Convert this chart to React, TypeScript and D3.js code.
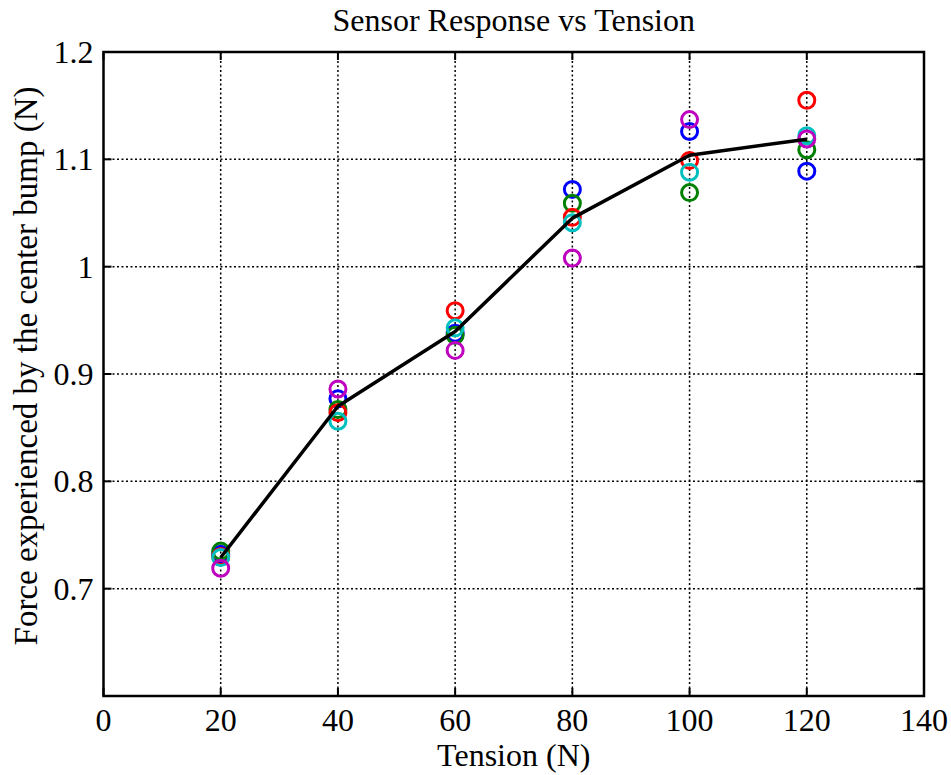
import React from "react";
import * as d3 from "d3";

// Tension settings (N)
const tension = [20, 40, 60, 80, 100, 120];

// Measured force for each of the five trials (N)
const trialBlue = [0.732, 0.877, 0.938, 1.072, 1.126, 1.089];
const trialGreen = [0.735, 0.867, 0.936, 1.059, 1.069, 1.109];
const trialRed = [0.730, 0.864, 0.959, 1.046, 1.099, 1.155];
const trialCyan = [0.729, 0.856, 0.943, 1.041, 1.088, 1.122];
const trialMagenta = [0.719, 0.886, 0.922, 1.008, 1.137, 1.119];

const trialColors = ["#0000ff", "#008000", "#ff0000", "#00bfbf", "#bf00bf"];

const xTicks = [0, 20, 40, 60, 80, 100, 120, 140];
const yTicks = [0.6, 0.7, 0.8, 0.9, 1.0, 1.1, 1.2];
const yTickLabels = ["", "0.7", "0.8", "0.9", "1", "1.1", "1.2"];

const W = 951;
const H = 775;
const left = 103.5;
const right = 924;
const top = 52;
const bottom = 696;
const font = "'Liberation Serif', 'Times New Roman', serif";

export default function App() {
  const x = d3.scaleLinear().domain([0, 140]).range([left, right]);
  const y = d3.scaleLinear().domain([0.6, 1.2]).range([bottom, top]);

  const trials = [trialBlue, trialGreen, trialRed, trialCyan, trialMagenta];
  const mean = tension.map((_, i) => d3.mean(trials, (t) => t[i]) as number);

  const line = d3
    .line<number>()
    .x((_, i) => x(tension[i]))
    .y((d) => y(d));

  const tickLen = 8;

  return (
    <svg
      width={W}
      height={H}
      style={{ position: "absolute", left: 0, top: 0, background: "#fff" }}
      fontFamily={font}
    >
      <rect x={0} y={0} width={W} height={H} fill="#fff" />

      {/* dotted grid */}
      {xTicks.slice(1, -1).map((t) => (
        <line
          key={"gx" + t}
          x1={x(t)}
          x2={x(t)}
          y1={top}
          y2={bottom}
          stroke="#000"
          strokeWidth={1.5}
          strokeDasharray="2,2.5"
        />
      ))}
      {yTicks.slice(1, -1).map((t) => (
        <line
          key={"gy" + t}
          x1={left}
          x2={right}
          y1={y(t)}
          y2={y(t)}
          stroke="#000"
          strokeWidth={1.5}
          strokeDasharray="2,2.5"
        />
      ))}

      {/* inward ticks on all sides */}
      {xTicks.map((t) => (
        <g key={"tx" + t}>
          <line x1={x(t)} x2={x(t)} y1={bottom} y2={bottom - tickLen} stroke="#000" strokeWidth={2} />
          <line x1={x(t)} x2={x(t)} y1={top} y2={top + tickLen} stroke="#000" strokeWidth={2} />
        </g>
      ))}
      {yTicks.map((t) => (
        <g key={"ty" + t}>
          <line x1={left} x2={left + tickLen} y1={y(t)} y2={y(t)} stroke="#000" strokeWidth={2} />
          <line x1={right} x2={right - tickLen} y1={y(t)} y2={y(t)} stroke="#000" strokeWidth={2} />
        </g>
      ))}

      <rect
        x={left}
        y={top}
        width={right - left}
        height={bottom - top}
        fill="none"
        stroke="#000"
        strokeWidth={2.5}
      />

      {/* trial markers */}
      {trials.map((t, k) =>
        t.map((v, i) => (
          <circle
            key={"m" + k + "-" + i}
            cx={x(tension[i])}
            cy={y(v)}
            r={8}
            fill="none"
            stroke={trialColors[k]}
            strokeWidth={3}
          />
        ))
      )}

      {/* mean response */}
      <path d={line(mean) ?? ""} fill="none" stroke="#000" strokeWidth={3.5} strokeLinejoin="round" />

      {/* tick labels */}
      {xTicks.map((t) => (
        <text key={"lx" + t} x={x(t)} y={bottom + 35} fontSize={32} textAnchor="middle" fill="#000">
          {t}
        </text>
      ))}
      {yTicks.map((t, i) => (
        <text
          key={"ly" + t}
          x={left - 10}
          y={y(t) + 11}
          fontSize={32}
          textAnchor="end"
          fill="#000"
        >
          {yTickLabels[i]}
        </text>
      ))}

      <text x={(left + right) / 2} y={31} fontSize={32} textAnchor="middle" fill="#000">
        Sensor Response vs Tension
      </text>
      <text x={(left + right) / 2} y={766} fontSize={32} textAnchor="middle" fill="#000">
        Tension (N)
      </text>
      <text
        transform={`translate(37, ${(top + bottom) / 2 - 8}) rotate(-90)`}
        fontSize={33}
        textAnchor="middle"
        fill="#000"
      >
        Force experienced by the center bump (N)
      </text>
    </svg>
  );
}
